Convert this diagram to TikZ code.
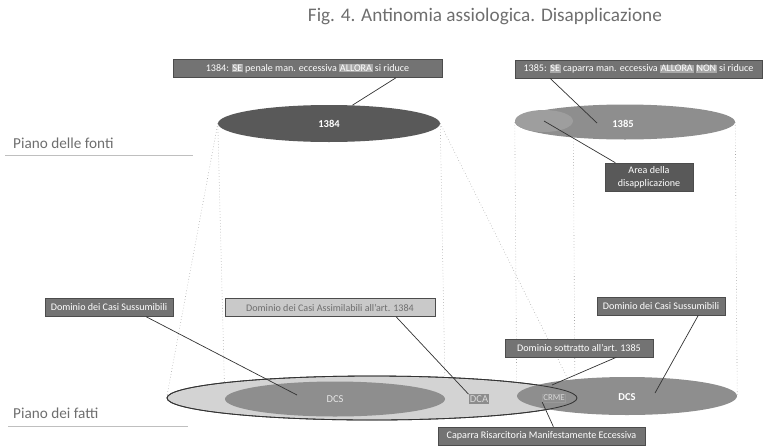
\documentclass[tikz,border=0pt]{standalone}
\usepackage{fontspec}
\setmainfont{Carlito}
\usepackage{tikz}
\usetikzlibrary{shapes.geometric}
\usetikzlibrary{backgrounds}

\definecolor{boxdark}{HTML}{737373}
\definecolor{boxdeep}{HTML}{595959}
\definecolor{boxpale}{HTML}{C9C9C9}
\definecolor{hlgray}{HTML}{A8A8A8}
\definecolor{txtgray}{HTML}{6E6E6E}
\definecolor{dotgray}{HTML}{A3A3A3}
\definecolor{fatti}{HTML}{D3D3D3}
\definecolor{dcsgray}{HTML}{8E8E8E}

\newcommand{\hlt}[1]{{\setlength{\fboxsep}{0.6pt}\colorbox{hlgray}{#1}}}

\tikzset{
  lbl/.style={draw=black!70, line width=0.5pt, fill=boxdark, text=white, inner sep=1pt,
    minimum height=18*0.03cm, font=\fontsize{8.6}{10}\selectfont},
  ell/.style={ellipse, inner sep=0pt},
  conn/.style={draw=black!80, line width=0.6pt},
  dots/.style={draw=dotgray, dotted, line width=0.5pt},
  piano/.style={text=txtgray, font=\fontsize{13}{15}\selectfont, anchor=west},
}

\begin{document}
\begin{tikzpicture}[x=0.03cm, y=-0.03cm]
  \useasboundingbox (0,0) rectangle (765,445);
  % titolo
  \node[text=txtgray, font=\fontsize{16.4}{19}\selectfont] (title) at (485,16) {Fig. 4. Antinomia assiologica. Disapplicazione};
  % piani
  \node[piano] (pf) at (9,143) {Piano delle fonti};
  \draw[black!25, line width=0.8pt] (5,155) -- (193,155);
  \node[piano] (pd) at (9,413) {Piano dei fatti};
  \draw[black!25, line width=0.8pt] (8,426) -- (188,426);

  % piano delle fonti
  \node[ell, fill=boxdeep, minimum width=222*0.03cm, minimum height=37*0.03cm, text=white, font=\fontsize{9}{10}\selectfont\bfseries] (e1384) at (329,123.5) {1384};
  \node[ell, fill=dcsgray, minimum width=220*0.03cm, minimum height=35*0.03cm] (e1385) at (625,122) {};
  \node[ell, fill=black!38, minimum width=58*0.03cm, minimum height=22*0.03cm] (area) at (544,121) {};
  \node[text=white, font=\fontsize{9}{10}\selectfont\bfseries] (t1385) at (623,124) {1385};

  % piano dei fatti
  \node[ell, fill=fatti, draw=black!80, line width=0.7pt, minimum width=410*0.03cm, minimum height=44*0.03cm] (fatti) at (372,398) {};
  \node[ell, fill=dcsgray, minimum width=220*0.03cm, minimum height=35*0.03cm, text=black!10, font=\fontsize{9}{10}\selectfont] (dcsL) at (335,399) {DCS};
  \node[fill=black!45, text=black!15, inner sep=1pt, font=\fontsize{9}{10}\selectfont] (dca) at (479,399) {DCA};
  \node[ell, fill=dcsgray, minimum width=220*0.03cm, minimum height=38*0.03cm] (dcsR) at (627,396) {};
  \node[ell, draw=black!80, line width=0.7pt, minimum width=410*0.03cm, minimum height=44*0.03cm] at (fatti.center) {};
  \node[text=white, font=\fontsize{9}{10}\selectfont\bfseries] (tdcsR) at (627,397) {DCS};
  \node[draw=black!40, text=black!15, inner sep=0.8pt, font=\fontsize{7.5}{9}\selectfont] (crme) at (554,398) {CRME};

  % proiezioni
  \begin{scope}[on background layer]
    \draw[dots] (e1384.west) -- (fatti.west);
    \draw[dots] (e1384.east) -- (fatti.east);
    \draw[dots] (e1384.west) -- (dcsL.west);
    \draw[dots] (e1384.east) -- (dcsL.east);
    \draw[dots] (e1385.west) -- (dcsR.west);
    \draw[dots] (e1385.east) -- (dcsR.east);
    \draw[dots] (area.east) -- (dcsR.162);
  \end{scope}

  % etichette
  \node[lbl, minimum width=269*0.03cm] (n1384) at (307.5,68.5) {1384: \hlt{SE} penale man. eccessiva \hlt{ALLORA} si riduce};
  \node[lbl, minimum width=247*0.03cm] (n1385) at (638.5,69) {1385: \hlt{SE} caparra man. eccessiva \hlt{ALLORA} \hlt{NON} si riduce};
  \node[lbl, fill=boxdeep, align=center, minimum width=88*0.03cm, minimum height=28*0.03cm, font=\fontsize{8.6}{11}\selectfont] (narea) at (649,177) {Area della\\disapplicazione};
  \node[lbl, minimum width=128*0.03cm] (ndcsL) at (109,307.5) {Dominio dei Casi Sussumibili};
  \node[lbl, fill=boxpale, text=txtgray, minimum width=210*0.03cm] (ndca) at (330,307.5) {Dominio dei Casi Assimilabili all’art. 1384};
  \node[lbl, minimum width=128*0.03cm] (ndcsR) at (661,306) {Dominio dei Casi Sussumibili};
  \node[lbl, minimum width=148*0.03cm] (nsott) at (579,348) {Dominio sottratto all’art. 1385};
  \node[lbl, minimum width=207*0.03cm] (ncrme) at (541.5,436) {Caparra Risarcitoria Manifestamente Eccessiva};

  % punti indicati
  \coordinate (p1385) at (597,123);
  \coordinate (pdcsL) at (297,395);
  \coordinate (pdcsR) at (655,393);
  \coordinate (psott) at (552,385);

  % connettori
  \draw[conn] (n1384.-6.5) -- (e1384.38);
  \draw[conn] (n1385.186.7) -- (p1385);
  \draw[conn] (narea.157) -- (area.center);
  \draw[conn] (ndcsL.-14) -- (pdcsL);
  \draw[conn] (ndca.-8.7) -- (dca.north west);
  \draw[conn] (ndcsR.-14.8) -- (pdcsR);
  \draw[conn] (nsott.-14.8) -- (psott);
  \draw[conn] (ncrme.38) -- (crme.south west);
\end{tikzpicture}
\end{document}
